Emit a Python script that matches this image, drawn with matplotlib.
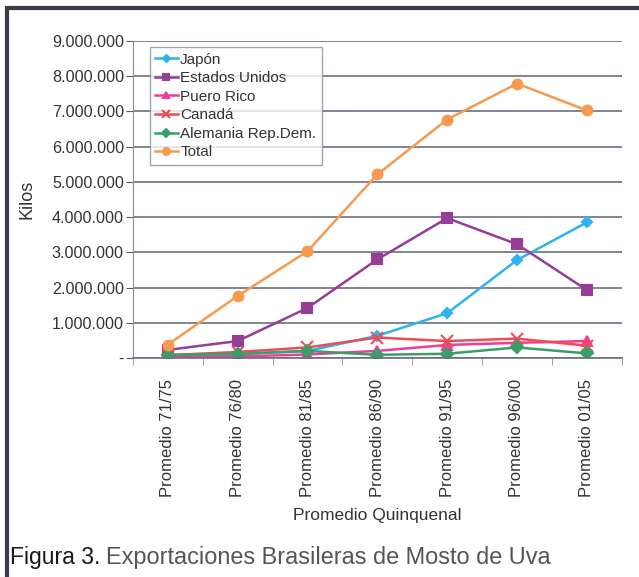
import matplotlib
matplotlib.use('Agg')
import matplotlib.pyplot as plt
from matplotlib.patches import Rectangle
from matplotlib.ticker import FuncFormatter, FixedLocator

plt.rcParams['font.family'] = ['Liberation Sans', 'DejaVu Sans']

# periodos quinquenales
periodos = ['Promedio 71/75', 'Promedio 76/80', 'Promedio 81/85', 'Promedio 86/90',
            'Promedio 91/95', 'Promedio 96/00', 'Promedio 01/05']

# kilos exportados
japon = [50000, 100000, 200000, 630000, 1270000, 2780000, 3850000]
estados_unidos = [230000, 480000, 1420000, 2800000, 3970000, 3230000, 1930000]
puerto_rico = [30000, 40000, 100000, 200000, 370000, 430000, 480000]
canada = [80000, 170000, 300000, 580000, 480000, 550000, 350000]
alemania = [90000, 120000, 200000, 90000, 120000, 300000, 130000]
total = [380000, 1760000, 3030000, 5210000, 6770000, 7790000, 7030000]

series = [
    ('Japón', japon, '#2fb3ee', 'D', 5),
    ('Estados Unidos', estados_unidos, '#953d97', 's', 7),
    ('Puero Rico', puerto_rico, '#ee3d9a', '^', 7),
    ('Canadá', canada, '#f04b55', 'x', 8),
    ('Alemania Rep.Dem.', alemania, '#3a9e67', 'D', 6),
    ('Total', total, '#f59a4e', 'o', 7),
]

fig = plt.figure(figsize=(6.39, 5.77), dpi=100)
ax = fig.add_axes([0.208, 0.3796, 0.765, 0.5494])

x = list(range(len(periodos)))
for name, vals, col, mk, ms in series:
    ax.plot(x, vals, color=col, marker=mk, markersize=ms, linewidth=1.8,
            markeredgewidth=1.5, label=name)

ax.set_xlim(-0.5, len(periodos) - 0.5)
ax.set_ylim(0, 9000000)
ax.set_yticks(range(0, 9000001, 1000000))

def miles(v, pos):
    if v == 0:
        return '-'
    return f'{int(v):,}'.replace(',', '.')

ax.yaxis.set_major_formatter(FuncFormatter(miles))
ax.set_xticks(x)
ax.set_xticklabels(periodos, rotation=90)
ax.xaxis.set_minor_locator(FixedLocator([i - 0.5 for i in range(len(periodos) + 1)]))
ax.tick_params(axis='x', which='major', length=0, pad=15, labelsize=12, labelcolor='#333333')
ax.tick_params(axis='x', which='minor', length=5, color='#8a8f9a')
ax.tick_params(axis='y', length=5, color='#555a66', labelsize=11.6, labelcolor='#333333', pad=1.5)

ax.grid(axis='y', color='#6b7080', linewidth=1.2)
ax.set_axisbelow(True)
for s in ['top', 'right']:
    ax.spines[s].set_visible(False)
ax.spines['left'].set_color('#8a8f9a')
ax.spines['bottom'].set_color('#6b7080')
ax.spines['bottom'].set_linewidth(1.2)

ax.set_xlabel('Promedio Quinquenal', fontsize=12.5, color='#333333', labelpad=8)
ax.set_ylabel('Kilos', fontsize=13, color='#333333')
ax.yaxis.set_label_coords(-0.2, 0.5)

leg = ax.legend(loc='upper left', bbox_to_anchor=(0.028, 0.99), fontsize=11,
                frameon=True, fancybox=False, handlelength=1.5, handletextpad=0.15,
                labelspacing=0.3, borderpad=0.35, markerscale=0.7, borderaxespad=0.2)
leg.get_frame().set_edgecolor('#8a8f9a')
leg.get_frame().set_linewidth(1.0)
for t in leg.get_texts():
    t.set_color('#333333')

fig.text(0.016, 0.022, 'Figura 3.', fontsize=16.5, color='#1a1a1a')
fig.text(0.166, 0.022, 'Exportaciones Brasileras de Mosto de Uva', fontsize=16.9, color='#555555')

fig.patches.append(Rectangle((7 / 639, -0.1), 1.2, 1.1 - 8 / 577, transform=fig.transFigure,
                             fill=False, edgecolor='#3a3d45', linewidth=3))

fig.savefig('out.png', dpi=100)
